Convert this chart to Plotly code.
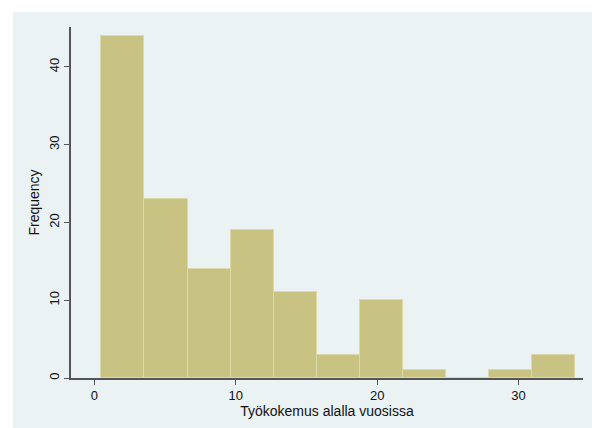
import plotly.graph_objects as go

# Histogram of work experience (years in the field)
bin_start = 0.5
bin_width = 3.045
counts = [44, 23, 14, 19, 11, 3, 10, 1, 0, 1, 3]
x_ticks = [0, 10, 20, 30]
y_ticks = [0, 10, 20, 30, 40]

centers = [bin_start + bin_width * (i + 0.5) for i in range(len(counts))]

fig = go.Figure()
fig.add_trace(go.Bar(
    x=centers,
    y=counts,
    width=[bin_width] * len(counts),
    marker=dict(color="#C9C383", line=dict(color="#DCD8AA", width=1)),
    hoverinfo="x+y",
))

# Stata-style light blue-grey graph region behind the white plot region
fig.add_shape(type="rect", xref="paper", yref="paper",
              x0=-0.1133, x1=1.02, y0=-0.15, y1=1.0427,
              fillcolor="#EAF2F3", line=dict(width=0), layer="below")

font_family = "Liberation Sans, Arial, sans-serif"
fig.update_layout(
    width=592, height=428,
    margin=dict(l=71, r=9, t=27, b=50),
    paper_bgcolor="white",
    plot_bgcolor="white",
    showlegend=False,
    bargap=0,
    font=dict(family=font_family, size=13, color="#111"),
    xaxis=dict(
        range=[-1.65, 34.56],
        tickvals=x_ticks,
        ticks="outside", ticklen=5, tickcolor="#555", tickwidth=1,
        showline=True, linecolor="#555", linewidth=1.5,
        showgrid=False, zeroline=False,
        title=dict(text="Työkokemus alalla vuosissa", font=dict(size=14), standoff=2),
        tickfont=dict(size=13),
    ),
    yaxis=dict(
        range=[0, 45.14],
        tickvals=y_ticks,
        tickangle=-90,
        ticks="outside", ticklen=5, tickcolor="#555", tickwidth=1,
        showline=True, linecolor="#555", linewidth=1.5,
        showgrid=True, gridcolor="#EAF2F3", gridwidth=1,
        zeroline=False,
        title=dict(text="Frequency", font=dict(size=14), standoff=4),
        tickfont=dict(size=13),
    ),
)

fig.write_html("out.html")
